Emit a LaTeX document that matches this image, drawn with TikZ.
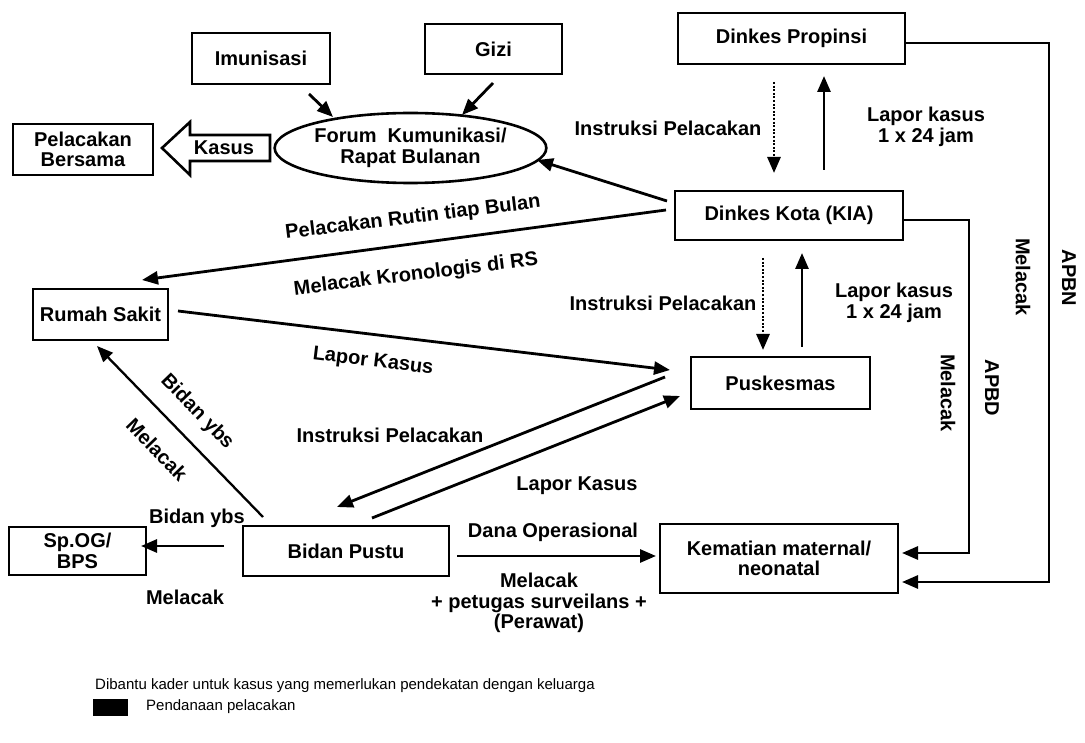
\documentclass[tikz,border=0pt]{standalone}
\usepackage{fontspec}
\setmainfont{Liberation Sans}
\usetikzlibrary{arrows.meta,calc,shapes.geometric}
\tikzset{
  txt/.style={font=\bfseries\fontsize{20}{20.5}\selectfont, align=center},
  box/.style={txt, draw, line width=2.9pt, inner sep=0pt},
  lbl/.style={txt, inner sep=0pt},
  conn/.style={line width=2.8pt, line join=miter, -{Triangle[length=16pt,width=13pt]}},
  thinconn/.style={conn, line width=2.3pt},
  dots/.style={conn, dash pattern=on 2pt off 1.6pt},
  legend/.style={font=\fontsize{15}{18}\selectfont, inner sep=0pt, anchor=west},
}
\begin{document}
\begin{tikzpicture}[x=1pt,y=-1pt]
\useasboundingbox (0,0) rectangle (1085,743);

% ---------- boxes ----------
\node[box, minimum width=138pt, minimum height=51pt] (imun) at (261,58.5) {Imunisasi};
\node[box, minimum width=137pt, minimum height=50pt] (gizi) at (493.5,49) {Gizi};
\node[box, minimum width=227pt, minimum height=51pt] (prop) at (791.5,38.5) {Dinkes Propinsi};
\node[box, minimum width=140pt, minimum height=51pt] (pel) at (83,149.5) {Pelacakan\\Bersama};
\node[box, ellipse, line width=2.6pt, minimum width=259pt, minimum height=70pt] (forum) at (410.5,148)
  {Forum\hspace{0.55em}Kumunikasi/\\Rapat Bulanan};
\node[box, minimum width=228pt, minimum height=49pt] (kota) at (789,215.5) {Dinkes Kota (KIA)};
\node[box, minimum width=135pt, minimum height=51pt] (rs) at (100.5,314.5) {Rumah Sakit};
\node[box, minimum width=179pt, minimum height=52pt] (pusk) at (780.5,383) {Puskesmas};
\node[box, minimum width=137pt, minimum height=48pt] (spog) at (77.5,551) {Sp.OG/\\BPS};
\node[box, minimum width=206pt, minimum height=50pt] (bidan) at (346,551) {Bidan Pustu};
\node[box, minimum width=238pt, minimum height=69pt] (kem) at (779,558.5) {Kematian maternal/\\neonatal};

% ---------- hollow "Kasus" arrow ----------
\draw[line width=2.6pt, line join=miter, fill=white]
  (162,148) -- (190,122) -- (190,135) -- (270,135) -- (270,161) -- (190,161) -- (190,175) -- cycle;
\node[lbl] (kasus) at (224,148) {Kasus};

% ---------- connector end points ----------
\coordinate (imunA) at (309,94);   \coordinate (imunB) at (333,117);
\coordinate (giziA) at (493,83);   \coordinate (giziB) at (462,115);
\coordinate (kotaF) at (667,201);  \coordinate (forumK) at (537,160);
\coordinate (kotaR) at (666,210);  \coordinate (rsK) at (142,280);
\coordinate (propD) at (774,82);   \coordinate (kotaD) at (774,173);
\coordinate (kotaU) at (824,170);  \coordinate (propU) at (824,76);
\coordinate (pn) at (1049,43);     \coordinate (kemN) at (902,582);
\coordinate (pd) at (969,220);     \coordinate (kemD) at (902,553);
\coordinate (kotaP) at (763,258);  \coordinate (puskD) at (763,350);
\coordinate (puskU) at (802,347);  \coordinate (kotaB) at (802,253);
\coordinate (rsP) at (178,311);    \coordinate (puskR) at (670,370);
\coordinate (puskI) at (665,377);  \coordinate (bidanI) at (337,507);
\coordinate (bidanL) at (372,518); \coordinate (puskL) at (680,396);
\coordinate (bidanR) at (263,517); \coordinate (rsB) at (97,346);
\coordinate (bidanS) at (224,546); \coordinate (spogB) at (141,546);
\coordinate (bidanK) at (457,556); \coordinate (kemB) at (656,556);

% ---------- connectors ----------
\draw[conn] (imunA) -- (imunB);
\draw[conn] (giziA) -- (giziB);
\draw[conn] (kotaF) -- (forumK);
\draw[conn] (kotaR) -- (rsK);
\draw[dots] (propD) -- (kotaD);
\draw[conn] (kotaU) -- (propU);
\draw[conn] (prop.east |- pn) -- (pn) |- (kemN);
\draw[conn] (kota.east |- pd) -- (pd) |- (kemD);
\draw[dots] (kotaP) -- (puskD);
\draw[conn] (puskU) -- (kotaB);
\draw[conn] (rsP) -- (puskR);
\draw[conn] (puskI) -- (bidanI);
\draw[conn] (bidanL) -- (puskL);
\draw[thinconn] (bidanR) -- (rsB);
\draw[conn] (bidanS) -- (spogB);
\draw[conn] (bidanK) -- (kemB);

% ---------- labels ----------
\node[lbl] (t1) at (668,128) {Instruksi Pelacakan};
\node[lbl] (t2) at (926,127) {Lapor kasus\\1 x 24 jam};
\node[lbl, rotate=7] (t3) at (413,218) {Pelacakan Rutin tiap Bulan};
\node[lbl, rotate=7] (t4) at (416,275) {Melacak Kronologis di RS};
\node[lbl] (t5) at (663,303) {Instruksi Pelacakan};
\node[lbl] (t6) at (894,303) {Lapor kasus\\1 x 24 jam};
\node[lbl, rotate=-7] (t7) at (373,362) {Lapor Kasus};
\node[lbl, rotate=-46] (t8) at (197,412) {Bidan ybs};
\node[lbl, rotate=-46] (t9) at (157,450) {Melacak};
\node[lbl] (t10) at (390,435) {Instruksi Pelacakan};
\node[lbl] (t11) at (577,486) {Lapor Kasus};
\node[lbl] (t12) at (197,518) {Bidan ybs};
\node[lbl] (t13) at (185,597) {Melacak};
\node[lbl] (t14) at (553,532) {Dana Operasional};
\node[lbl] (t15) at (539,603) {Melacak\\+ petugas surveilans +\\(Perawat)};
\node[lbl, rotate=-90] (t16) at (948,393) {Melacak};
\node[lbl, rotate=-90] (t17) at (992,388) {APBD};
\node[lbl, rotate=-90] (t18) at (1023,277) {Melacak};
\node[lbl, rotate=-90] (t19) at (1069,278) {APBN};

% ---------- legend ----------
\node[legend] (leg1) at (95,686) {Dibantu kader untuk kasus yang memerlukan pendekatan dengan keluarga};
\fill (93,699) rectangle (128,716);
\node[legend] (leg2) at (146,707) {Pendanaan pelacakan};
\end{tikzpicture}
\end{document}
